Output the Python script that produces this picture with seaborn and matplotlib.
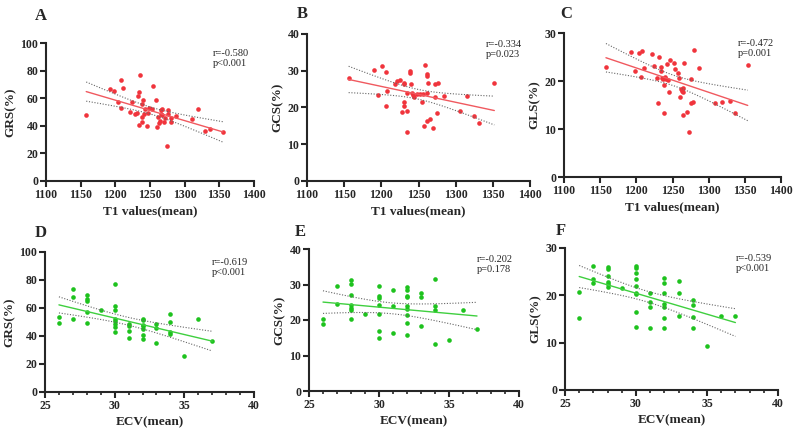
import numpy as np
import pandas as pd
import matplotlib
matplotlib.use("Agg")
import matplotlib.pyplot as plt
import seaborn as sns
from matplotlib.ticker import MultipleLocator

# ---- data ----
t1_A = [1158, 1192, 1198, 1204, 1208, 1208, 1211, 1221, 1224, 1229, 1231, 1233, 1234, 1235, 1234, 1238,
        1238, 1238, 1240, 1243, 1242, 1245, 1247, 1249, 1253, 1255, 1258, 1260, 1261, 1263, 1265, 1266,
        1266, 1267, 1268, 1270, 1272, 1274, 1276, 1276, 1280, 1280, 1288, 1310, 1319, 1330, 1337, 1355]
grs_A = [47.7, 66.7, 65.5, 57.0, 73.0, 53.0, 67.7, 49.9, 56.9, 48.4, 49.0, 61.7, 64.8, 76.9, 40.5, 55.7,
         46.5, 43.0, 58.6, 52.3, 48.4, 40.2, 49.6, 52.8, 52.5, 68.9, 58.8, 38.8, 46.5, 41.7, 43.6, 48.9,
         51.3, 47.5, 52.3, 43.1, 46.0, 25.5, 51.3, 48.9, 45.8, 42.7, 47.0, 44.8, 52.3, 36.3, 38.0, 35.2]

t1_B = [1156, 1190, 1196, 1201, 1206, 1206, 1208, 1219, 1221, 1225, 1228, 1230, 1231, 1231, 1231, 1234,
        1235, 1235, 1238, 1239, 1240, 1241, 1243, 1244, 1248, 1252, 1255, 1256, 1257, 1259, 1261, 1261,
        1262, 1263, 1261, 1266, 1270, 1272, 1276, 1272, 1275, 1284, 1306, 1315, 1325, 1332, 1352]
gcs_B = [28.1, 30.1, 23.5, 31.2, 29.6, 20.4, 24.6, 26.5, 27.1, 27.5, 18.8, 26.7, 26.5, 20.4, 21.4, 19.0,
         24.0, 13.3, 29.5, 29.8, 26.5, 23.9, 23.3, 22.9, 23.7, 23.8, 21.6, 23.8, 15.0, 31.6, 16.3, 29.1,
         28.5, 26.8, 23.9, 16.9, 14.5, 26.5, 26.7, 22.9, 18.5, 23.0, 19.1, 23.0, 17.7, 15.9, 26.6]

t1_C = [1158, 1192, 1198, 1204, 1208, 1207, 1211, 1222, 1224, 1228, 1230, 1232, 1234, 1234, 1235, 1237,
        1238, 1238, 1239, 1241, 1242, 1244, 1245, 1247, 1252, 1254, 1257, 1259, 1260, 1262, 1263, 1264,
        1265, 1265, 1266, 1270, 1273, 1275, 1276, 1278, 1280, 1287, 1309, 1319, 1329, 1337, 1354]
gls_C = [22.9, 26.1, 22.0, 25.8, 26.3, 20.9, 22.8, 25.7, 23.2, 20.7, 15.4, 25.0, 23.0, 22.1, 20.7, 20.5,
         19.1, 13.3, 20.8, 20.4, 23.5, 20.2, 17.7, 24.4, 23.7, 22.6, 21.7, 20.6, 16.6, 18.4, 18.0, 17.7,
         18.6, 13.0, 23.7, 13.5, 9.3, 20.5, 15.4, 15.6, 26.4, 22.7, 15.4, 15.7, 15.8, 13.3, 23.3]

ecv_D = [26, 26, 27, 27, 27, 28, 28, 28, 28, 28, 29, 30, 30, 30, 30, 30, 30, 30, 30, 31, 31, 31, 31,
         32, 32, 32, 32, 32, 32, 32, 33, 33, 33, 34, 34, 34, 34, 35, 36, 37]
grs_D = [53.3, 49.5, 73.3, 67.6, 52.4, 69.0, 66.5, 64.8, 57.0, 49.5, 58.8, 77.4, 61.7, 58.3, 52.4, 50.5,
         48.6, 46.7, 42.9, 48.8, 47.4, 43.3, 38.8, 52.4, 51.2, 48.1, 46.9, 45.0, 40.5, 38.1, 48.8, 45.7,
         35.2, 56.0, 49.8, 43.1, 41.7, 25.5, 52.4, 36.2]

ecv_E = [26, 26, 27, 27, 28, 28, 28, 28, 28, 28, 28, 29, 30, 30, 30, 30, 30, 30, 30, 31, 31, 31,
         32, 32, 32, 32, 32, 32, 32, 32, 32, 33, 33, 33, 34, 34, 34, 34, 35, 36, 37]
gcs_E = [20.4, 18.8, 29.7, 24.6, 31.2, 30.1, 27.1, 24.1, 23.4, 22.9, 20.2, 21.7, 29.5, 26.7, 26.3, 24.1,
         21.7, 16.9, 15.0, 28.4, 23.9, 16.3, 29.2, 28.4, 26.9, 26.5, 23.9, 23.1, 21.3, 19.1, 15.8, 27.5,
         26.5, 18.4, 31.6, 24.0, 22.9, 13.2, 14.3, 22.9, 17.5]

ecv_F = [26, 26, 27, 27, 27, 28, 28, 28, 28, 28, 28, 29, 30, 30, 30, 30, 30, 30, 30, 30, 30,
         31, 31, 31, 31, 32, 32, 32, 32, 32, 32, 32, 33, 33, 33, 34, 34, 34, 34, 35, 36, 37]
gls_F = [20.7, 15.2, 26.1, 23.4, 22.7, 26.0, 25.6, 24.1, 22.9, 22.4, 21.8, 21.6, 26.3, 25.8, 24.8, 23.4,
         21.9, 20.5, 20.3, 16.4, 13.4, 20.5, 18.5, 17.6, 13.0, 23.6, 22.7, 20.5, 18.1, 17.6, 15.3, 13.2,
         23.1, 20.5, 15.6, 19.0, 18.0, 15.4, 13.1, 9.2, 15.6, 15.7]

r_text = ["r=-0.580\np<0.001", "r=-0.334\np=0.023", "r=-0.472\np=0.001",
          "r=-0.619\np<0.001", "r=-0.202\np=0.178", "r=-0.539\np<0.001"]
letters = ["A", "B", "C", "D", "E", "F"]

RED, RED_LINE = "#f0343c", "#f0595f"
GREEN, GREEN_LINE = "#1ec21e", "#3fcf3f"

sns.set_style("ticks")
plt.rcParams["font.family"] = ["Liberation Serif", "DejaVu Serif"]
plt.rcParams["axes.linewidth"] = 1.5


def ci_lines(x, y, xs, t=2.02):
    """95% confidence band of the regression line."""
    x = np.asarray(x, float)
    y = np.asarray(y, float)
    b, a = np.polyfit(x, y, 1)
    resid = y - (a + b * x)
    n = len(x)
    s = np.sqrt(np.sum(resid ** 2) / (n - 2))
    se = s * np.sqrt(1 / n + (xs - x.mean()) ** 2 / np.sum((x - x.mean()) ** 2))
    fit = a + b * xs
    return fit - t * se, fit + t * se


def panel(ax, x, y, color, lcolor, xlim, xstep, ylim, ystep, xlabel, ylabel, note, minor=None):
    df = pd.DataFrame({"x": x, "y": y})
    sns.regplot(data=df, x="x", y="y", ax=ax, ci=None, truncate=True,
                scatter_kws=dict(s=11, color=color, linewidths=0, alpha=1),
                line_kws=dict(color=lcolor, lw=1.0))
    xs = np.linspace(min(x), max(x), 100)
    lo, hi = ci_lines(x, y, xs)
    ax.plot(xs, lo, ls=(0, (1, 1.5)), color="#666666", lw=0.8)
    ax.plot(xs, hi, ls=(0, (1, 1.5)), color="#666666", lw=0.8)
    ax.set_xlim(*xlim)
    ax.set_ylim(*ylim)
    ax.xaxis.set_major_locator(MultipleLocator(xstep))
    ax.yaxis.set_major_locator(MultipleLocator(ystep))
    if minor:
        ax.xaxis.set_minor_locator(MultipleLocator(minor))
    sns.despine(ax=ax)
    ax.tick_params(axis="both", which="major", length=4, width=1.5, labelsize=8.5, pad=1.5)
    ax.tick_params(axis="x", which="minor", length=2.5, width=1.2)
    for lab in ax.get_xticklabels() + ax.get_yticklabels():
        lab.set_fontweight("bold")
    ax.set_xlabel(xlabel, fontsize=9.5, fontweight="bold", labelpad=3)
    ax.set_ylabel(ylabel, fontsize=9.5, fontweight="bold", labelpad=3)
    ax.text(0.8, 0.96, note, transform=ax.transAxes, fontsize=7.5, va="top", ha="left",
            linespacing=1.15)


fig = plt.figure(figsize=(7.94, 4.32), dpi=100)
W, H = 794, 432


def add_axes(left, top, right, bottom):
    return fig.add_axes([left / W, 1 - bottom / H, (right - left) / W, (bottom - top) / H])


axA = add_axes(46, 43, 254, 181)
axB = add_axes(307, 34, 530, 181)
axC = add_axes(564, 33, 781, 177)
axD = add_axes(45, 252, 254, 392)
axE = add_axes(309, 249, 519, 391)
axF = add_axes(565, 248, 778, 390)

t1_lim = (1100, 1400)
ecv_lim = (25, 40)
panel(axA, t1_A, grs_A, RED, RED_LINE, t1_lim, 50, (0, 100), 20, "T1 values(mean)", "GRS(%)", r_text[0])
panel(axB, t1_B, gcs_B, RED, RED_LINE, t1_lim, 50, (0, 40), 10, "T1 values(mean)", "GCS(%)", r_text[1])
panel(axC, t1_C, gls_C, RED, RED_LINE, t1_lim, 50, (0, 30), 10, "T1 values(mean)", "GLS(%)", r_text[2])
panel(axD, ecv_D, grs_D, GREEN, GREEN_LINE, ecv_lim, 5, (0, 100), 20, "ECV(mean)", "GRS(%)", r_text[3], minor=1)
panel(axE, ecv_E, gcs_E, GREEN, GREEN_LINE, ecv_lim, 5, (0, 40), 10, "ECV(mean)", "GCS(%)", r_text[4], minor=1)
panel(axF, ecv_F, gls_F, GREEN, GREEN_LINE, ecv_lim, 5, (0, 30), 10, "ECV(mean)", "GLS(%)", r_text[5], minor=1)

letter_pos = [(41, 16), (302, 14), (566, 14), (41, 233), (300, 232), (561, 231)]
for letter, (lx, ly) in zip(letters, letter_pos):
    fig.text(lx / W, 1 - ly / H, letter, fontsize=12, fontweight="bold", ha="center", va="center")

fig.savefig("out.png", dpi=100)
